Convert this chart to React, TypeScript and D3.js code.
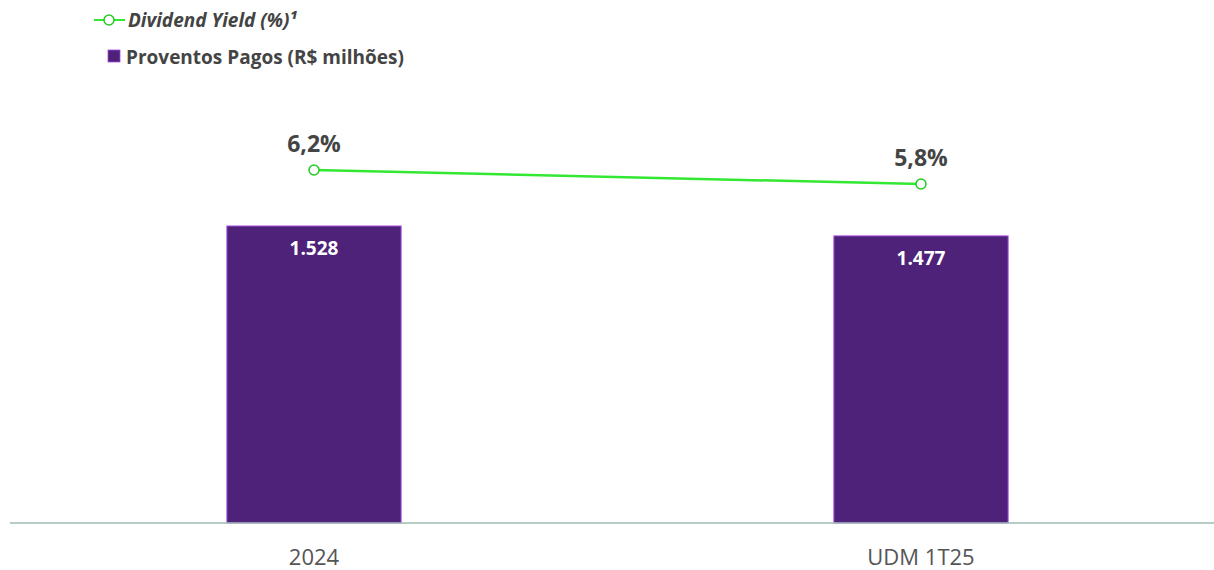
import React from "react";
import * as d3 from "d3";

const categories = ["2024", "UDM 1T25"];
const proventos = [1528, 1477];
const proventosLabels = ["1.528", "1.477"];
const dividendYield = [6.2, 5.8];
const yieldLabels = ["6,2%", "5,8%"];

const W = 1214;
const H = 570;
const baseY = 523;

export default function App() {
  const x = d3.scaleBand<string>().domain(categories).range([17, 1218]).paddingInner(0.713).paddingOuter(0.3458);
  const yBar = d3.scaleLinear().domain([0, 1528]).range([baseY, 226]);
  const yLine = d3.scaleLinear().domain([0, 10]).range([387, 37]);
  const cx = (c: string) => (x(c) as number) + x.bandwidth() / 2;
  const line = d3
    .line<number>()
    .x((_, i) => cx(categories[i]))
    .y((d) => yLine(d));

  const font = "'Open Sans', sans-serif";
  return (
    <svg width={W} height={H} style={{ position: "absolute", left: 0, top: 0, fontFamily: font }}>
      <rect width={W} height={H} fill="#fff" />
      {/* legend */}
      <line x1={94} x2={125} y1={20} y2={20} stroke="#33e833" strokeWidth={2} />
      <circle cx={109} cy={20} r={5} fill="#fff" stroke="#22cc22" strokeWidth={1.5} />
      <text x={128} y={27} fontSize={19} fontWeight={700} fontStyle="italic" fill="#444">
        Dividend Yield (%)¹
      </text>
      <rect x={108} y={50} width={12} height={12} fill="#4e2278" stroke="#a64ce0" strokeWidth={0.8} />
      <text x={126} y={64} fontSize={19} fontWeight={700} fill="#444">
        Proventos Pagos (R$ milhões)
      </text>

      {/* bars */}
      {categories.map((c, i) => (
        <g key={c}>
          <rect
            x={x(c)}
            y={yBar(proventos[i])}
            width={x.bandwidth()}
            height={baseY - yBar(proventos[i])}
            fill="#4e2278"
            stroke="#a64ce0"
            strokeWidth={1}
          />
          <text x={cx(c)} y={yBar(proventos[i]) + 29} textAnchor="middle" fontSize={19} fontWeight={700} fill="#fff">
            {proventosLabels[i]}
          </text>
          <text x={cx(c)} y={565} textAnchor="middle" fontSize={22} fill="#555">
            {c}
          </text>
        </g>
      ))}

      {/* axis */}
      <line x1={10} x2={W} y1={baseY} y2={baseY} stroke="#9dbdb0" strokeWidth={1.5} />

      {/* line */}
      <path d={line(dividendYield) as string} fill="none" stroke="#33e833" strokeWidth={2.5} />
      {dividendYield.map((v, i) => (
        <g key={i}>
          <circle cx={cx(categories[i])} cy={yLine(v)} r={5} fill="#fff" stroke="#22cc22" strokeWidth={1.5} />
          <text x={cx(categories[i])} y={yLine(v) - 18} textAnchor="middle" fontSize={23} fontWeight={700} fill="#444">
            {yieldLabels[i]}
          </text>
        </g>
      ))}
    </svg>
  );
}
